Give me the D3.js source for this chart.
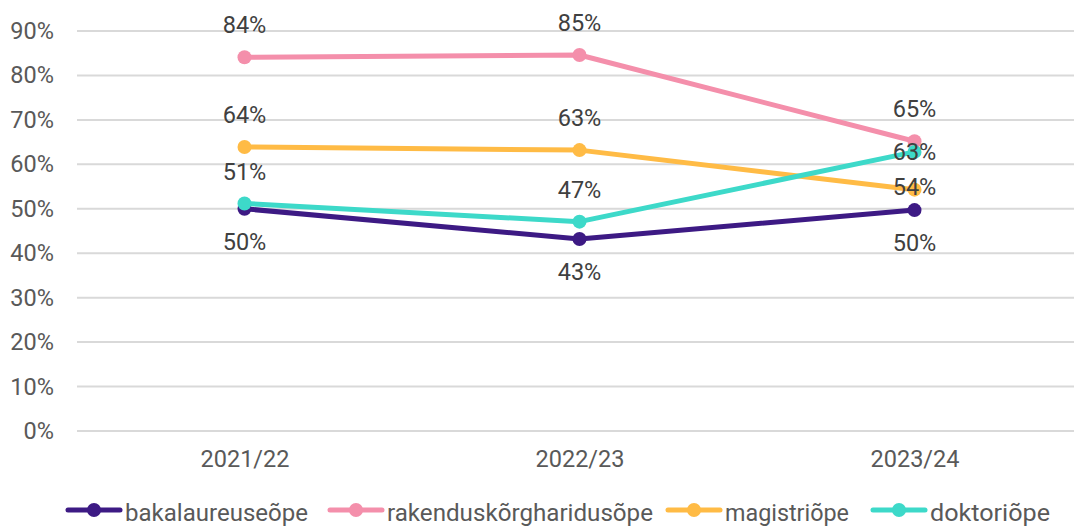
<!DOCTYPE html>
<html>
<head>
<meta charset="utf-8">
<script src="https://cdn.jsdelivr.net/npm/d3@7"></script>
<style>
  body { margin: 0; background: #fff; }
  text { font-family: Roboto, "Noto Sans", sans-serif; }
</style>
</head>
<body>
<div id="container"></div>
<script>
// categories and values (percent)
var years = ["2021/22", "2022/23", "2023/24"];
var seriesNames = ["bakalaureuseõpe", "rakenduskõrgharidusõpe", "magistriõpe", "doktoriõpe"];
var seriesColors = ["#3d1a84", "#f48fab", "#ffbb45", "#3dd9c9"];
var bakalaureus = [50.0, 43.2, 49.7];
var rakendus = [84.1, 84.6, 65.2];
var magister = [63.9, 63.2, 54.3];
var doktor = [51.2, 47.1, 62.8];
var yTicks = [0, 10, 20, 30, 40, 50, 60, 70, 80, 90];

// label offsets (px from the point) per series / year
var labelDy = [
  [33, 33, 33],
  [-32, -32, -32],
  [-32, -32, -3],
  [-32, -32, 0]
];

var width = 1074, height = 526;
var margin = {top: 31, right: 0, bottom: 95, left: 77};
var fs = "23.5px";

var svg = d3.select("#container")
  .append("svg")
    .attr("width", width)
    .attr("height", height);

var x = d3.scalePoint()
  .domain(years)
  .range([margin.left + 167.5, margin.left + 167.5 + 670]);

var y = d3.scaleLinear()
  .domain([0, 90])
  .range([431, 31]);

// gridlines
svg.append("g")
  .selectAll("line")
  .data(yTicks)
  .enter()
  .append("line")
    .attr("x1", margin.left)
    .attr("x2", width)
    .attr("y1", function(d){ return y(d); })
    .attr("y2", function(d){ return y(d); })
    .style("stroke", "#d9d9d9")
    .style("stroke-width", 2);

// y axis labels
var yAxis = d3.axisLeft(y).tickValues(yTicks).tickSize(0).tickPadding(0)
  .tickFormat(function(d){ return d + "%"; });
svg.append("g")
  .attr("transform", "translate(54,0)")
  .call(yAxis)
  .call(function(g){ g.select(".domain").remove(); })
  .selectAll("text")
    .attr("font-size", fs)
    .attr("fill", "#595959");

// x axis labels
var xAxis = d3.axisBottom(x).tickSize(0).tickPadding(0);
svg.append("g")
  .attr("transform", "translate(0,450)")
  .call(xAxis)
  .call(function(g){ g.select(".domain").remove(); })
  .selectAll("text")
    .attr("font-size", fs)
    .attr("fill", "#595959");

var allSeries = [bakalaureus, rakendus, magister, doktor];
var line = d3.line()
  .x(function(d, i){ return x(years[i]); })
  .y(function(d){ return y(d); });

allSeries.forEach(function(vals, s) {
  var g = svg.append("g");
  g.append("path")
    .datum(vals)
    .attr("d", line)
    .style("fill", "none")
    .style("stroke", seriesColors[s])
    .style("stroke-width", 5)
    .style("stroke-linejoin", "round");
  g.selectAll("circle")
    .data(vals)
    .enter()
    .append("circle")
      .attr("cx", function(d, i){ return x(years[i]); })
      .attr("cy", function(d){ return y(d); })
      .attr("r", 7)
      .style("fill", seriesColors[s]);
});

// data labels on top
allSeries.forEach(function(vals, s) {
  svg.append("g")
    .selectAll("text")
    .data(vals)
    .enter()
    .append("text")
      .attr("x", function(d, i){ return x(years[i]); })
      .attr("y", function(d, i){ return y(d) + labelDy[s][i]; })
      .attr("dy", "0.35em")
      .attr("text-anchor", "middle")
      .attr("font-size", fs)
      .attr("fill", "#404040")
      .text(function(d){ return Math.round(d) + "%"; });
});

// legend
var legendX = [68, 330, 668, 873];
var legendW = [183, 266, 124, 120];
var lg = svg.append("g").attr("transform", "translate(0,510)");
seriesNames.forEach(function(n, s) {
  var item = lg.append("g").attr("transform", "translate(" + legendX[s] + ",0)");
  item.append("line")
    .attr("x1", 0).attr("x2", 52)
    .attr("y1", 0).attr("y2", 0)
    .style("stroke", seriesColors[s])
    .style("stroke-width", 5)
    .style("stroke-linecap", "round");
  item.append("circle")
    .attr("cx", 26).attr("cy", 0).attr("r", 7)
    .style("fill", seriesColors[s]);
  item.append("text")
    .attr("x", 57)
    .attr("y", 11)
    .attr("font-size", "24px")
    .attr("fill", "#595959")
    .attr("textLength", legendW[s])
    .attr("lengthAdjust", "spacingAndGlyphs")
    .text(n);
});
</script>
</body>
</html>
